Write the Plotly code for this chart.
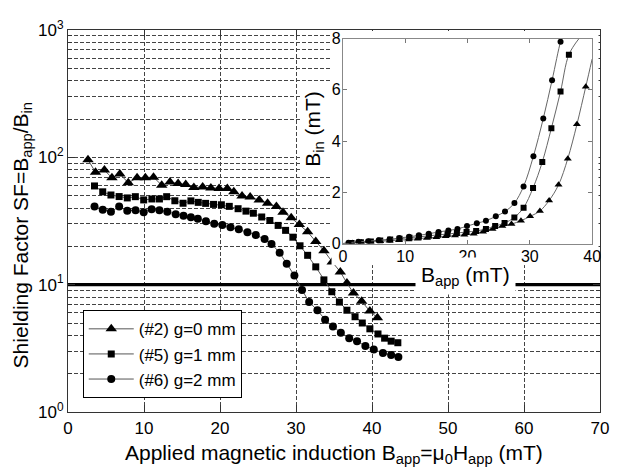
import plotly.graph_objects as go

# ---------------- Main plot data (SF = B_app / B_in) ----------------
b_app_g0 = [2.63, 3.62, 4.79, 5.78, 6.82, 7.93, 9.09, 10.18, 11.25, 12.33,
            13.42, 14.49, 15.49, 16.56, 17.72, 18.80, 19.88, 20.96, 21.82, 22.90,
            23.97, 25.16, 26.26, 27.42, 28.29, 29.37, 30.44, 31.53, 32.60, 33.68,
            34.76, 35.83, 36.70, 37.56, 38.64, 39.72, 40.71]
sf_g0 = [95.7, 76.4, 79.4, 69.0, 74.0, 63.1, 69.0, 69.0, 69.9, 60.4,
         64.0, 62.2, 61.1, 58.0, 58.6, 57.5, 56.9, 56.9, 53.6, 49.7,
         48.8, 46.3, 43.6, 41.1, 37.1, 33.5, 29.7, 26.0, 21.8, 18.5,
         15.1, 12.6, 10.3, 8.6, 7.4, 6.2, 5.5]

b_app_g1 = [3.49, 4.57, 5.65, 6.73, 7.80, 8.86, 9.96, 11.04, 12.03, 12.98,
            14.06, 15.14, 16.17, 17.14, 18.11, 19.15, 20.18, 21.22, 22.38, 23.42,
            24.39, 25.49, 26.56, 27.65, 28.63, 29.59, 30.53, 31.53, 32.60, 33.67,
            34.71, 35.71, 36.70, 37.77, 38.72, 39.72, 40.79, 41.66, 42.52, 43.40]
sf_g1 = [59.6, 53.6, 50.6, 49.2, 48.0, 49.1, 46.3, 47.1, 47.1, 49.1,
         45.6, 43.6, 45.5, 44.3, 43.5, 42.7, 42.4, 41.2, 39.5, 37.8,
         36.4, 34.0, 31.9, 29.2, 26.7, 23.6, 20.2, 17.0, 13.8, 10.9,
         8.8, 7.3, 6.3, 5.6, 5.0, 4.5, 4.1, 3.8, 3.6, 3.5]

b_app_g2 = [3.49, 4.57, 5.65, 6.73, 7.80, 8.89, 9.96, 11.0, 12.03, 13.07,
            14.17, 15.20, 16.17, 17.08, 18.15, 19.24, 20.31, 21.38, 22.47, 23.61,
            24.71, 25.87, 26.78, 27.85, 28.78, 29.79, 30.79, 31.73, 32.82, 33.83,
            34.86, 35.90, 37.0, 38.03, 39.13, 40.23, 41.44, 42.52, 43.47]
sf_g2 = [41.1, 38.8, 37.4, 41.1, 38.1, 38.4, 37.1, 39.1, 38.4, 37.4,
         35.8, 34.7, 33.8, 33.0, 31.5, 30.1, 29.4, 28.3, 27.2, 25.8,
         24.5, 22.8, 20.9, 17.8, 14.6, 11.8, 9.1, 7.3, 6.3, 5.3,
         4.7, 4.2, 3.8, 3.6, 3.3, 3.1, 2.9, 2.8, 2.7]

series_names = ["(#2) g=0 mm", "(#5) g=1 mm", "(#6) g=2 mm"]

SF_THRESHOLD = 10
X_RANGE_MAIN = [0, 70]

# ---------------- Inset data (B_in vs B_app) ----------------
ins_x_g0 = [1.5, 3.0, 4.5, 6.0, 7.5, 9.0, 10.5, 12.0, 13.5, 15.0, 16.5, 18.0, 19.5,
            21.0, 22.5, 24.02, 25.59, 27.06, 28.58, 30.05, 31.62, 33.1, 34.61,
            36.09, 37.56, 38.98]
ins_y_g0 = [0.02, 0.04, 0.06, 0.085, 0.11, 0.13, 0.155, 0.19, 0.22, 0.245, 0.28, 0.31, 0.34,
            0.38, 0.46, 0.57, 0.68, 0.76, 0.89, 1.06, 1.27, 1.68, 2.29,
            3.31, 4.65, 6.12]
ins_end_g0 = (40.0, 7.2)

ins_x_g1 = [1.4, 2.9, 4.5, 6.0, 7.6, 9.1, 10.7, 12.2, 13.8, 15.3, 16.8, 18.3, 19.85,
            21.39, 22.96, 24.44, 25.95, 27.52, 29.0, 30.52, 32.0, 33.46, 34.93, 36.27]
ins_y_g1 = [0.02, 0.05, 0.08, 0.12, 0.16, 0.19, 0.23, 0.26, 0.30, 0.34, 0.37, 0.41, 0.45,
            0.49, 0.57, 0.68, 0.80, 1.02, 1.40, 2.17, 3.18, 4.50, 5.93, 7.37]
ins_end_g1 = (37.9, 8.0)

ins_x_g2 = [0.91, 2.49, 4.06, 5.75, 7.48, 9.06, 10.63, 12.2, 13.78, 15.35, 16.93, 18.39,
            19.92, 21.5, 22.96, 24.54, 26.02, 27.53, 29.0, 30.58, 32.16, 33.57, 34.93]
ins_y_g2 = [0.03, 0.07, 0.09, 0.13, 0.16, 0.22, 0.26, 0.32, 0.38, 0.45, 0.51, 0.57,
            0.68, 0.79, 0.89, 1.06, 1.25, 1.58, 2.23, 3.41, 4.88, 6.37, 7.87]
ins_end_g2 = (35.15, 8.0)
INSET_ORIGIN = (0.0, 0.0)

# ---------------- Styling ----------------
FONT = "Liberation Sans, Arial, Helvetica, sans-serif"
GRID = dict(showgrid=True, gridcolor="#444444", griddash="4px,2px", gridwidth=0.8)
main_symbols = ["triangle-up", "square", "circle"]
main_sizes = [10, 7, 8]
inset_sizes = [7, 6, 6]

fig = go.Figure()

# threshold line SF = 10
fig.add_trace(go.Scatter(x=X_RANGE_MAIN, y=[SF_THRESHOLD, SF_THRESHOLD], mode="lines",
                         line=dict(color="black", width=3.3), showlegend=False,
                         hoverinfo="skip", xaxis="x", yaxis="y"))

main_data = [(b_app_g0, sf_g0), (b_app_g1, sf_g1), (b_app_g2, sf_g2)]
for (bx, sf), name, sym, sz in zip(main_data, series_names, main_symbols, main_sizes):
    fig.add_trace(go.Scatter(x=bx, y=sf, name=name, mode="lines+markers",
                             line=dict(color="#555555", width=1),
                             marker=dict(symbol=sym, size=sz, color="black"),
                             xaxis="x", yaxis="y"))

# white cover subplots (behind the inset and its labels)
for ax in ["2", "3"]:
    fig.add_trace(go.Scatter(x=[None], y=[None], showlegend=False, hoverinfo="skip",
                             xaxis="x" + ax, yaxis="y" + ax))

inset_data = [(ins_x_g0, ins_y_g0, ins_end_g0),
              (ins_x_g1, ins_y_g1, ins_end_g1),
              (ins_x_g2, ins_y_g2, ins_end_g2)]
for (ix, iy, end), sym, sz in zip(inset_data, main_symbols, inset_sizes):
    fig.add_trace(go.Scatter(x=[INSET_ORIGIN[0]] + ix + [end[0]],
                             y=[INSET_ORIGIN[1]] + iy + [end[1]],
                             mode="lines", line=dict(color="#666666", width=1, shape="spline"),
                             showlegend=False, hoverinfo="skip", xaxis="x4", yaxis="y4"))
    fig.add_trace(go.Scatter(x=ix, y=iy, mode="markers",
                             marker=dict(symbol=sym, size=sz, color="black"),
                             showlegend=False, xaxis="x4", yaxis="y4"))

# page is rendered with an 8px body margin -> figure origin at page (8, 8)
OFF = 8
PAGE_W, PAGE_H = 619, 470
W, H = PAGE_W - OFF, PAGE_H - OFF
PLOT_L, PLOT_R, PLOT_T, PLOT_B = 68, 609, 22, 412   # page pixel coords of plot area
L, T = PLOT_L - OFF, PLOT_T - OFF
R, B = W - (PLOT_R - OFF), H - (PLOT_B - OFF)
PW, PH = PLOT_R - PLOT_L, PLOT_B - PLOT_T


def px(x):
    return (x - PLOT_L) / PW


def py(y):
    return (PLOT_B - y) / PH


minor_vals = [m * 10 ** k for k in range(3) for m in range(2, 10)]

fig.update_layout(
    width=W, height=H,
    margin=dict(l=L, r=R, t=T, b=B, pad=0),
    paper_bgcolor="white", plot_bgcolor="white",
    font=dict(family=FONT, size=17, color="black"),
    showlegend=True,
    legend=dict(x=px(83), y=py(398), xanchor="left", yanchor="bottom",
                bgcolor="white", bordercolor="black", borderwidth=1,
                font=dict(size=17), itemwidth=45, tracegroupgap=0),
    xaxis=dict(domain=[0, 1], range=X_RANGE_MAIN, tick0=0, dtick=10, ticks="inside",
               ticklen=7, tickcolor="#333333", showline=True, linecolor="#333333",
               mirror="ticks", zeroline=False, anchor="y", ticklabelstandoff=1, **GRID),
    yaxis=dict(domain=[0, 1], type="log", range=[0, 3], tickmode="array",
               tickvals=[1, 10, 100, 1000],
               ticktext=["10<sup>0</sup>", "10<sup>1</sup>", "10<sup>2</sup>", "10<sup>3</sup>"],
               ticks="inside", ticklen=7, tickcolor="#333333", showline=True,
               linecolor="#333333", mirror="ticks", zeroline=False, anchor="x",
               minor=dict(tickmode="array", tickvals=minor_vals, ticks="inside", ticklen=4,
                          tickcolor="#333333", **GRID),
               **GRID),
    xaxis2=dict(domain=[px(336), px(607.5)], range=[0, 1], visible=False, anchor="y2"),
    yaxis2=dict(domain=[py(262), py(23)], range=[0, 1], visible=False, anchor="x2"),
    xaxis3=dict(domain=[px(305), px(336)], range=[0, 1], visible=False, anchor="y3"),
    yaxis3=dict(domain=[py(172), py(76)], range=[0, 1], visible=False, anchor="x3"),
    xaxis4=dict(domain=[px(347.5), px(601)], range=[0, 40], tick0=0, dtick=10,
                ticks="inside", ticklen=4, tickcolor="#777777", showline=True,
                linecolor="#888888", mirror="ticks", showgrid=False, zeroline=False,
                anchor="y4", tickfont=dict(size=16), ticklabelstandoff=-2),
    yaxis4=dict(domain=[py(240), py(30.7)], range=[0, 8], tick0=0, dtick=2,
                ticks="inside", ticklen=4, tickcolor="#777777", showline=True,
                linecolor="#888888", mirror="ticks", showgrid=False, zeroline=False,
                anchor="x4", tickfont=dict(size=16), ticklabelstandoff=-2),
    annotations=[
        dict(text="Applied magnetic induction B<sub>app</sub>=\u03bc<sub>0</sub>H<sub>app</sub> (mT)",
             x=px(338), y=py(455), xref="paper", yref="paper", showarrow=False,
             font=dict(size=21), xanchor="center", yanchor="middle"),
        dict(text="Shielding Factor SF=B<sub>app</sub>/B<sub>in</sub>",
             x=px(21), y=py(232), xref="paper", yref="paper", showarrow=False,
             textangle=-90, font=dict(size=21), xanchor="center", yanchor="middle"),
        dict(text="B<sub>app</sub> (mT)", x=px(472), y=py(273), xref="paper", yref="paper",
             showarrow=False, font=dict(size=21), bgcolor="white", borderpad=5,
             xanchor="center", yanchor="middle"),
        dict(text="B<sub>in</sub> (mT)", x=px(318), y=py(123), xref="paper", yref="paper",
             showarrow=False, textangle=-90, font=dict(size=21),
             xanchor="center", yanchor="middle"),
    ],
)

fig.write_html("out.html")
